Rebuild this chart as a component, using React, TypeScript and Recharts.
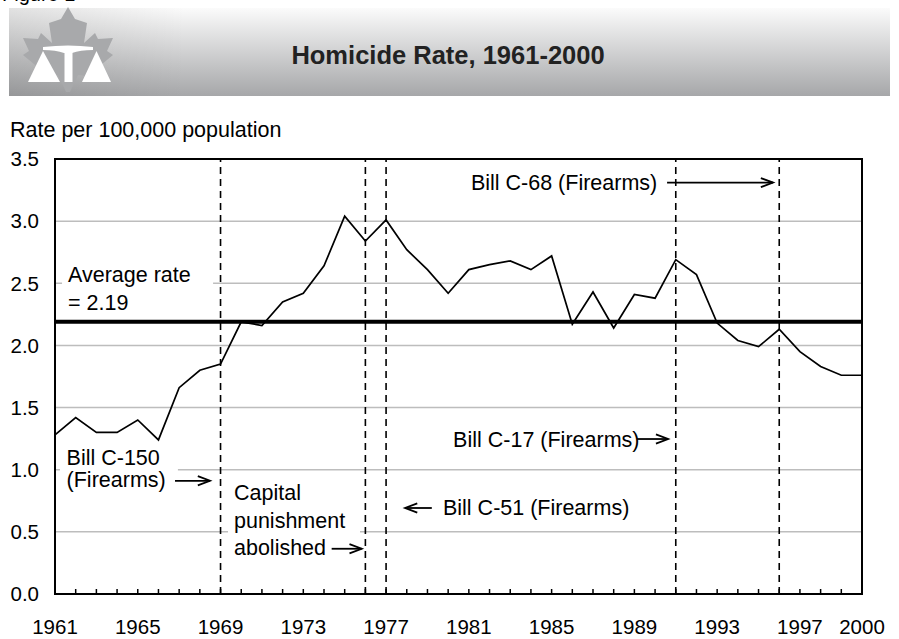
import React from "react"
import {
  LineChart,
  Line,
  XAxis,
  YAxis,
  CartesianGrid,
  ReferenceLine,
  ReferenceArea,
  ReferenceDot,
} from "recharts"

const FONT = '"Liberation Sans", Arial, sans-serif'

// homicide rate per 100,000 population
const years = [
  1961, 1962, 1963, 1964, 1965, 1966, 1967, 1968, 1969, 1970,
  1971, 1972, 1973, 1974, 1975, 1976, 1977, 1978, 1979, 1980,
  1981, 1982, 1983, 1984, 1985, 1986, 1987, 1988, 1989, 1990,
  1991, 1992, 1993, 1994, 1995, 1996, 1997, 1998, 1999, 2000,
]
const rates = [
  1.28, 1.42, 1.3, 1.3, 1.4, 1.24, 1.66, 1.8, 1.85, 2.19,
  2.16, 2.35, 2.42, 2.64, 3.04, 2.84, 3.01, 2.77, 2.61, 2.42,
  2.61, 2.65, 2.68, 2.61, 2.72, 2.17, 2.43, 2.14, 2.41, 2.38,
  2.69, 2.57, 2.18, 2.04, 1.99, 2.13, 1.95, 1.83, 1.76, 1.76,
]
const yTicks = [0, 0.5, 1, 1.5, 2, 2.5, 3, 3.5]
const labelYears = [1961, 1965, 1969, 1973, 1977, 1981, 1985, 1989, 1993, 1997, 2000]
const averageRate = 2.19
const eventYears = [1969, 1976, 1977, 1991, 1996]

// text notes, anchored at (year, rate) of the first line's left edge
const notes = [
  { x: 1961.63, y: 2.57, lines: ["Average rate", "= 2.19"], lh: 28 },
  { x: 1961.56, y: 1.1, lines: ["Bill C-150", "(Firearms)"], lh: 22 },
  { x: 1969.65, y: 0.815, lines: ["Capital", "punishment", "abolished"], lh: 27.5 },
  { x: 1981.1, y: 3.31, lines: ["Bill C-68 (Firearms)"], lh: 20 },
  { x: 1980.24, y: 1.247, lines: ["Bill C-17 (Firearms)"], lh: 20 },
  { x: 1979.75, y: 0.692, lines: ["Bill C-51 (Firearms)"], lh: 20 },
]

// white boxes behind the notes that sit on grid lines
const noteBoxes = [
  { x1: 1961.34, x2: 1968.64, y1: 2.25, y2: 2.67 },
  { x1: 1961.24, x2: 1966.94, y1: 0.82, y2: 1.19 },
  { x1: 1969.36, x2: 1975.74, y1: 0.28, y2: 0.9 },
]

const arrows = [
  { from: [1990.58, 3.31], to: [1995.7, 3.31] },
  { from: [1966.8, 0.911], to: [1968.49, 0.911] },
  { from: [1974.37, 0.364], to: [1975.82, 0.364] },
  { from: [1989.13, 1.247], to: [1990.63, 1.247] },
  { from: [1979.21, 0.692], to: [1977.92, 0.692] },
]

const data = years.map((year, i) => ({ year, rate: rates[i] }))

function XTick(props: any) {
  const { x, y, payload } = props
  const year = payload.value
  return (
    <g>
      <line x1={x} x2={x} y1={y} y2={y - 5} stroke="#000" strokeWidth={1.5} />
      {labelYears.includes(year) && (
        <text x={x} y={y + 40} textAnchor="middle" fontSize={20.5} fontFamily={FONT} fill="#000">
          {year}
        </text>
      )}
    </g>
  )
}

const noteShape = (note: any) => (props: any) => {
  const { cx, cy } = props
  return (
    <g>
      {note.lines.map((t: string, i: number) => (
        <text key={t} x={cx} y={cy + i * note.lh + 7.5} fontSize={21.5} fontFamily={FONT} fill="#000">
          {t}
        </text>
      ))}
    </g>
  )
}

function Arrow(props: any) {
  const { x1, y1, x2, y2 } = props
  const ang = Math.atan2(y2 - y1, x2 - x1)
  const len = 13
  const spread = 0.36
  const p1 = [x2 - len * Math.cos(ang - spread), y2 - len * Math.sin(ang - spread)]
  const p2 = [x2 - len * Math.cos(ang + spread), y2 - len * Math.sin(ang + spread)]
  return (
    <g>
      <line x1={x1} y1={y1} x2={x2} y2={y2} stroke="#000" strokeWidth={1.8} />
      <polyline points={`${p1[0]},${p1[1]} ${x2},${y2} ${p2[0]},${p2[1]}`} fill="none" stroke="#000" strokeWidth={1.8} />
    </g>
  )
}

function Header() {
  const leaf = [
    [0, 0], [7, 12], [19, 16], [16, 36], [27, 26], [30, 32], [45, 31], [39, 44], [45, 48],
    [28, 62], [30, 70], [10, 68], [2, 85], [-2, 85], [-10, 68], [-30, 70], [-28, 62], [-45, 48],
    [-39, 44], [-45, 31], [-30, 32], [-27, 26], [-16, 36], [-19, 16], [-7, 12],
  ]
  return (
    <svg width={899} height={160} style={{ position: "absolute", left: 0, top: 0 }}>
      <defs>
        <linearGradient id="band" x1="0" y1="0" x2="0" y2="1">
          <stop offset="0" stopColor="#fbfbfb" />
          <stop offset="1" stopColor="#a6a7a9" />
        </linearGradient>
        <linearGradient id="bandLeft" x1="0" y1="0" x2="1" y2="0">
          <stop offset="0" stopColor="#000" stopOpacity={0.1} />
          <stop offset="0.2" stopColor="#000" stopOpacity={0} />
        </linearGradient>
      </defs>
      <text x={2} y={1} fontSize={20} fontFamily={FONT} fill="#000">Figure 1</text>
      <rect x={9} y={8} width={881} height={88} fill="url(#band)" />
      <rect x={9} y={8} width={881} height={88} fill="url(#bandLeft)" />
      <polygon points={leaf.map(([x, y]) => `${68 + x},${7 + y}`).join(" ")} fill="#a8a9ab" />
      <path d="M43,47 Q68,44 93,47 L93,50 Q80,50 72,53 L64,53 Q56,50 43,50 Z" fill="#fff" />
      <rect x={64.5} y={52} width={8} height={30} fill="#fff" />
      <polygon points="43,51 28,82 60,82" fill="#fff" />
      <polygon points="96.5,51 82,82 111,82" fill="#fff" />
      <text x={448} y={64} textAnchor="middle" fontSize={25.5} fontWeight="bold" fontFamily={FONT} fill="#222">
        Homicide Rate, 1961-2000
      </text>
      <text x={10} y={137} fontSize={21.5} fontFamily={FONT} fill="#000">Rate per 100,000 population</text>
    </svg>
  )
}

export default function App() {
  return (
    <div style={{ position: "absolute", left: 0, top: 0, width: 899, height: 639, background: "#fff" }}>
      <LineChart width={899} height={639} data={data} margin={{ top: 159, right: 37, bottom: 15, left: 0 }}>
        <CartesianGrid horizontal vertical={false} stroke="#bdbdbd" strokeWidth={1.5} />
        <XAxis
          dataKey="year"
          type="number"
          domain={[1961, 2000]}
          ticks={years}
          interval={0}
          height={30}
          tickSize={0}
          tickMargin={0}
          axisLine={false}
          tickLine={false}
          tick={<XTick />}
        />
        <YAxis
          domain={[0, 3.5]}
          ticks={yTicks}
          width={55}
          tickSize={0}
          tickMargin={16}
          axisLine={false}
          tickLine={false}
          tickFormatter={(v: number) => v.toFixed(1)}
          tick={{ fill: "#000", fontSize: 20.5, fontFamily: FONT }}
        />
        {noteBoxes.map((b, i) => (
          <ReferenceArea key={i} x1={b.x1} x2={b.x2} y1={b.y1} y2={b.y2} fill="#fff" fillOpacity={1} stroke="none" />
        ))}
        {eventYears.map((yr) => (
          <ReferenceLine key={yr} x={yr} stroke="#000" strokeWidth={1.6} strokeDasharray="7 5" />
        ))}
        {notes.map((n) => (
          <ReferenceDot key={n.lines[0]} x={n.x} y={n.y} r={1} shape={noteShape(n)} />
        ))}
        {arrows.map((a, i) => (
          <ReferenceLine
            key={i}
            segment={[{ x: a.from[0], y: a.from[1] }, { x: a.to[0], y: a.to[1] }]}
            shape={Arrow}
          />
        ))}
        <Line type="linear" dataKey="rate" stroke="#000" strokeWidth={1.7} dot={false} isAnimationActive={false} />
        <ReferenceLine y={averageRate} stroke="#000" strokeWidth={4} />
        <ReferenceArea x1={1961} x2={2000} y1={0} y2={3.5} fill="none" stroke="#000" strokeWidth={2} />
      </LineChart>
      <Header />
    </div>
  )
}
